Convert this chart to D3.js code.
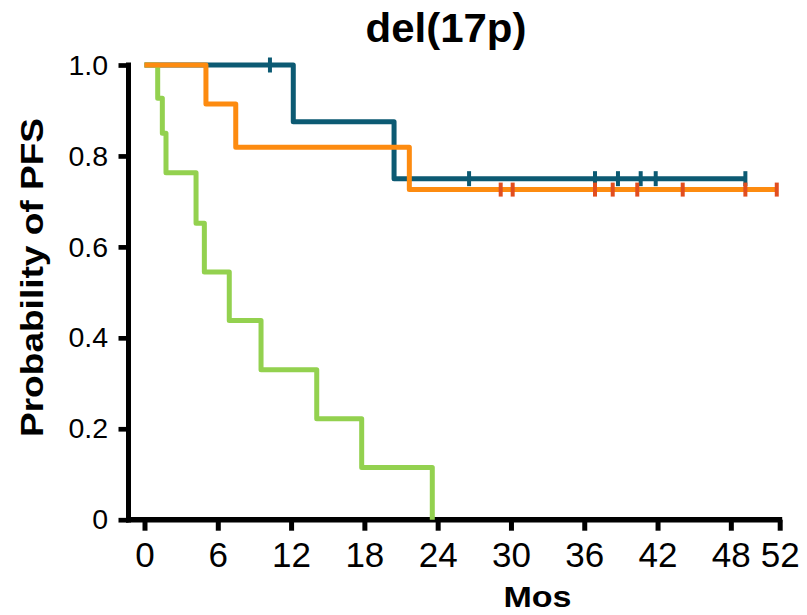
<!DOCTYPE html>
<html>
<head>
<meta charset="utf-8">
<script src="https://cdn.jsdelivr.net/npm/d3@7"></script>
<style>
  html, body { margin: 0; padding: 0; background: #fff; }
  svg { display: block; font-family: "Liberation Sans", Arial, Helvetica, sans-serif; }
</style>
</head>
<body>
<svg id="chart" width="807" height="615"></svg>
<script>
// Kaplan–Meier progression-free survival, del(17p) subgroup
const monthTicks = [0, 6, 12, 18, 24, 30, 36, 42, 48, 52];
const probTicks = [0, 0.2, 0.4, 0.6, 0.8, 1.0];
const probTickLabels = ["0", "0.2", "0.4", "0.6", "0.8", "1.0"];

// Teal arm: event times (months) and survival after each event
const tealEventTimes = [12.18, 20.43];
const tealSurvival = [0.875, 0.75];
const tealFollowUpEnd = 49.19;
const tealCensored = [10.27, 26.57, 36.88, 38.76, 40.62, 41.85, 49.19];

// Orange arm
const orangeEventTimes = [5.03, 7.47, 21.68];
const orangeSurvival = [0.914, 0.819, 0.726];
const orangeFollowUpEnd = 51.76;
const orangeCensored = [29.16, 30.14, 36.88, 38.33, 40.34, 44.06, 49.19, 51.76];

// Green arm
const greenEventTimes = [1.08, 1.46, 1.76, 4.22, 4.90, 6.94, 9.54, 14.10, 17.78, 23.56];
const greenSurvival = [0.927, 0.850, 0.763, 0.652, 0.545, 0.438, 0.330, 0.222, 0.115, 0];
const greenFollowUpEnd = 23.56;
const greenCensored = [];

const svg = d3.select("#chart");

const x = d3.scaleLinear().domain([0, 52]).range([144.5, 779.7]);
const y = d3.scaleLinear().domain([0, 1]).range([519.7, 65]);

const yAxisX = 128.5;
const axisY = y(0);

// ---- axes ----
const yAxis = d3.axisLeft(y)
  .tickValues(probTicks)
  .tickFormat((d, i) => probTickLabels[i])
  .tickSize(10)
  .tickPadding(10.5);

const gy = svg.append("g")
  .attr("transform", `translate(${yAxisX},0)`)
  .call(yAxis);
gy.select(".domain").remove();
gy.selectAll(".tick line").attr("stroke", "#000").attr("stroke-width", 4.7);
gy.selectAll(".tick text")
  .attr("fill", "#000")
  .style("font-size", "28.5px")
  .style("font-family", "'Liberation Sans', Arial, sans-serif");

const xAxis = d3.axisBottom(x)
  .tickValues(monthTicks)
  .tickFormat(d3.format("d"))
  .tickSize(11)
  .tickPadding(11.75);

const gx = svg.append("g")
  .attr("transform", `translate(0,${axisY})`)
  .call(xAxis);
gx.select(".domain").remove();
gx.selectAll(".tick line").attr("stroke", "#000").attr("stroke-width", 5);
gx.selectAll(".tick text")
  .attr("fill", "#000")
  .style("font-size", "35px")
  .style("font-family", "'Liberation Sans', Arial, sans-serif");

// axis spines
svg.append("line")
  .attr("x1", yAxisX).attr("x2", yAxisX)
  .attr("y1", y(1) - 2.4).attr("y2", axisY + 2.8)
  .attr("stroke", "#000").attr("stroke-width", 5);
svg.append("line")
  .attr("x1", yAxisX - 2.5).attr("x2", x(52) + 2.5)
  .attr("y1", axisY).attr("y2", axisY)
  .attr("stroke", "#000").attr("stroke-width", 5.5);

// ---- survival curves ----
function stepPoints(times, surv, end) {
  const pts = [[0, 1]];
  times.forEach((t, i) => pts.push([t, surv[i]]));
  if (end > times[times.length - 1]) pts.push([end, surv[surv.length - 1]]);
  return pts;
}
function survivalAt(times, surv, t) {
  let s = 1;
  times.forEach((et, i) => { if (et <= t) s = surv[i]; });
  return s;
}

const line = d3.line()
  .x(d => x(d[0]))
  .y(d => y(d[1]))
  .curve(d3.curveStepAfter);

const arms = [
  { name: "teal", times: tealEventTimes, surv: tealSurvival, end: tealFollowUpEnd,
    cens: tealCensored, color: "#0c5a73", censColor: "#0c5a73", half: 7.5 },
  { name: "green", times: greenEventTimes, surv: greenSurvival, end: greenFollowUpEnd,
    cens: greenCensored, color: "#93d14f", censColor: "#93d14f", half: 7 },
  { name: "orange", times: orangeEventTimes, surv: orangeSurvival, end: orangeFollowUpEnd,
    cens: orangeCensored, color: "#fd8b10", censColor: "#e24e1f", half: 7 }
];

arms.forEach(a => {
  const g = svg.append("g").attr("class", "arm-" + a.name);
  g.append("path")
    .datum(stepPoints(a.times, a.surv, a.end))
    .attr("d", line)
    .attr("fill", "none")
    .attr("stroke", a.color)
    .attr("stroke-width", 5)
    .attr("stroke-linejoin", "round");
  g.selectAll("line.censor")
    .data(a.cens)
    .join("line")
    .attr("class", "censor")
    .attr("x1", d => x(d)).attr("x2", d => x(d))
    .attr("y1", d => y(survivalAt(a.times, a.surv, d)) - a.half)
    .attr("y2", d => y(survivalAt(a.times, a.surv, d)) + a.half)
    .attr("stroke", a.censColor)
    .attr("stroke-width", 4);
});

// ---- titles ----
svg.append("text")
  .attr("x", 446).attr("y", 41.7)
  .attr("text-anchor", "middle")
  .attr("font-weight", "bold")
  .attr("font-size", 40)
  .attr("textLength", 161)
  .attr("lengthAdjust", "spacingAndGlyphs")
  .text("del(17p)");

svg.append("text")
  .attr("transform", "translate(43.3,277.5) rotate(-90)")
  .attr("text-anchor", "middle")
  .attr("font-weight", "bold")
  .attr("font-size", 32)
  .attr("textLength", 319)
  .attr("lengthAdjust", "spacingAndGlyphs")
  .text("Probability of PFS");

svg.append("text")
  .attr("x", 537.5).attr("y", 606.7)
  .attr("text-anchor", "middle")
  .attr("font-weight", "bold")
  .attr("font-size", 30)
  .attr("textLength", 68)
  .attr("lengthAdjust", "spacingAndGlyphs")
  .text("Mos");
</script>
</body>
</html>
